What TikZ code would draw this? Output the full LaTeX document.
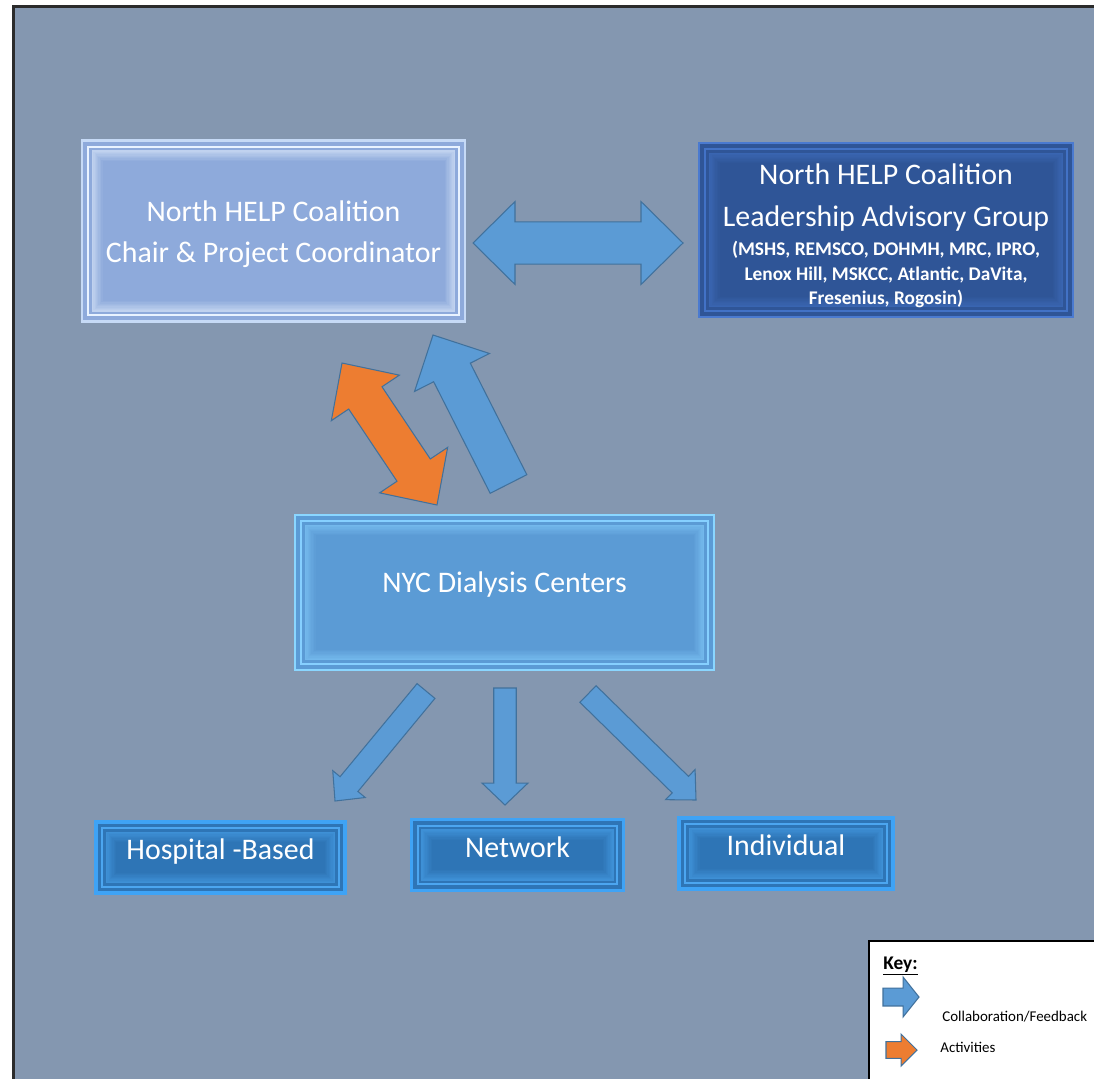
\documentclass[tikz,border=0pt]{standalone}
\usepackage{fontspec}
\setmainfont{Carlito}
\usetikzlibrary{calc}

% office-like palette
\definecolor{slate}{HTML}{8497B0}
\definecolor{framegray}{HTML}{2B2B2B}
\definecolor{chairfill}{HTML}{8EAADB}
\definecolor{chairedge}{HTML}{C6DAF6}
\definecolor{chairhi}{HTML}{E9F3FF}
\definecolor{leadfill}{HTML}{2F5597}
\definecolor{leadedge}{HTML}{4A7AD0}
\definecolor{leadhi}{HTML}{4272C6}
\definecolor{hubfill}{HTML}{5B9BD5}
\definecolor{hubedge}{HTML}{8AD6FF}
\definecolor{hubhi}{HTML}{86D0FF}
\definecolor{leaffill}{HTML}{2E75B6}
\definecolor{leafedge}{HTML}{3FA3F5}
\definecolor{leafhi}{HTML}{4CA6F0}
\definecolor{arrowfill}{HTML}{5B9BD5}
\definecolor{arrowline}{HTML}{41719C}
\definecolor{actorange}{HTML}{ED7D31}

% inner frame + soft bevel band of a box (used in path picture)
\newcommand{\bevel}[2]{%
  \draw[#1, line width=1.1pt]
    ([xshift=3.6pt,yshift=-3.6pt]path picture bounding box.north west) rectangle
    ([xshift=-3.6pt,yshift=3.6pt]path picture bounding box.south east);
  \foreach \k in {0,...,7}{
    \pgfmathtruncatemacro\mix{55-7*\k}
    \pgfmathsetlengthmacro\ins{6pt+0.75pt*\k}
    \draw[#1!\mix!#2, line width=0.8pt]
      ([xshift=\ins,yshift=-\ins]path picture bounding box.north west) rectangle
      ([xshift=-\ins,yshift=\ins]path picture bounding box.south east);
  }
}

% fat arrow: style, tail, tip, shaft half width, head half width, head length
\newcommand{\singlearrow}[6]{%
  \coordinate (#3-base) at ($(#3)!#6!(#2)$);
  \draw[#1] ($(#2)!#4!90:(#3)$) -- ($(#3-base)!#4!90:(#3)$)
    -- ($(#3-base)!#5!90:(#3)$) -- (#3)
    -- ($(#3-base)!#5!-90:(#3)$) -- ($(#3-base)!#4!-90:(#3)$)
    -- ($(#2)!#4!-90:(#3)$) -- cycle;
}

% fat arrow with a head at both ends
\newcommand{\doublearrow}[6]{%
  \coordinate (#2-base) at ($(#2)!#6!(#3)$);
  \coordinate (#3-base) at ($(#3)!#6!(#2)$);
  \draw[#1] (#2) -- ($(#2-base)!#5!90:(#3)$) -- ($(#2-base)!#4!90:(#3)$)
    -- ($(#3-base)!#4!90:(#3)$) -- ($(#3-base)!#5!90:(#3)$) -- (#3)
    -- ($(#3-base)!#5!-90:(#3)$) -- ($(#3-base)!#4!-90:(#3)$)
    -- ($(#2-base)!#4!-90:(#3)$) -- ($(#2-base)!#5!-90:(#3)$) -- cycle;
}

\newcommand{\listfont}{\fontsize{11}{13}\selectfont\bfseries}

\begin{document}
\begin{tikzpicture}[x=0.02cm, y=-0.02cm,
    box/.style={rectangle, inner sep=0pt, text=white, align=center,
      font=\fontsize{17}{23.5}\selectfont},
    chairbox/.style={box, fill=chairfill, draw=chairedge, line width=1.5pt,
      minimum width=7.66cm, minimum height=3.62cm,
      path picture={\bevel{chairhi}{chairfill}}},
    leadbox/.style={box, fill=leadfill, draw=leadedge, line width=1.5pt,
      minimum width=7.48cm, minimum height=3.48cm,
      path picture={\bevel{leadhi}{leadfill}}},
    hubbox/.style={box, fill=hubfill, draw=hubedge, line width=1.6pt,
      minimum width=8.38cm, minimum height=3.1cm, text depth=12pt,
      path picture={\bevel{hubhi}{hubfill}}},
    leafbox/.style={box, fill=leaffill, draw=leafedge, line width=2pt,
      minimum height=1.42cm, text depth=9pt,
      path picture={\bevel{leafhi}{leaffill}}},
    flow/.style={fill=arrowfill, draw=arrowline, line width=0.6pt, line join=miter},
    activity/.style={fill=actorange, draw=arrowline, line width=0.6pt, line join=miter},
    keytext/.style={anchor=west, inner sep=0pt, font=\fontsize{8.5}{10}\selectfont}
  ]
  \useasboundingbox (0,0) rectangle (1094,1078);

  % backdrop
  \draw[fill=slate, draw=framegray, line width=1.7pt] (13.5,6.5) rectangle (1120,1100);

  % boxes
  \node[chairbox] (chair) at (273.5,231) {};
  \node[box] (chairtext) at (273.5,234) {North HELP Coalition\\Chair \& Project Coordinator};
  \node[leadbox] (lead) at (886,230) {};
  \node[box] (leadtext) at (886,236) {North HELP Coalition\\Leadership Advisory Group\\[-6.7pt]
    {\listfont (MSHS, REMSCO, DOHMH, MRC, IPRO,}\\[-9.6pt]
    {\listfont Lenox Hill, MSKCC, Atlantic, DaVita,}\\[-9.6pt]
    {\listfont Fresenius, Rogosin)}};
  \node[hubbox] (centers) at (504.5,592.5) {NYC Dialysis Centers};
  \node[leafbox, minimum width=4.98cm] (hosp) at (220.5,857.5) {Hospital -Based};
  \node[leafbox, minimum width=4.24cm] (network) at (517.5,855) {Network};
  \node[leafbox, minimum width=4.28cm] (indiv) at (786,853.5) {Individual};

  % arrow ends
  \coordinate (link-l) at (473,243);
  \coordinate (link-r) at (683,243);
  \coordinate (act-a) at (342,363);
  \coordinate (act-b) at (437,505);
  \coordinate (fb-tail) at (508.5,484);
  \coordinate (fb-tip) at (433,335);
  \coordinate (d1-tail) at (426,691);
  \coordinate (d1-tip) at (335,801);
  \coordinate (d2-tail) at (505,688);
  \coordinate (d2-tip) at (505,805);
  \coordinate (d3-tail) at (588,694);
  \coordinate (d3-tip) at (696,800);

  % arrows
  \doublearrow{flow}{link-l}{link-r}{12pt}{23.6pt}{23.9pt}
  \doublearrow{activity}{act-a}{act-b}{11.4pt}{23.3pt}{23.9pt}
  \singlearrow{flow}{fb-tail}{fb-tip}{11.7pt}{23.9pt}{23.9pt}
  \singlearrow{flow}{d1-tail}{d1-tip}{6.6pt}{12pt}{12.5pt}
  \singlearrow{flow}{d2-tail}{d2-tip}{6.4pt}{13.1pt}{12.5pt}
  \singlearrow{flow}{d3-tail}{d3-tip}{6.6pt}{12pt}{12.5pt}

  % key
  \node[draw=black, fill=white, line width=0.9pt, anchor=north west,
    minimum width=5cm, minimum height=3cm] (key) at (868,940) {};
  \node[anchor=base west, inner sep=0pt, font=\fontsize{11}{13}\selectfont\bfseries]
    (keytitle) at (883,969) {\underline{Key:}};
  \coordinate (k1-tail) at (883,997);
  \coordinate (k1-tip) at (919,997);
  \coordinate (k2-tail) at (886,1050);
  \coordinate (k2-tip) at (917,1050);
  \singlearrow{flow}{k1-tail}{k1-tip}{5.1pt}{11.4pt}{9.1pt}
  \singlearrow{activity}{k2-tail}{k2-tip}{4.8pt}{9.1pt}{9.1pt}
  \node[keytext] (k1-text) at (942,1017) {Collaboration/Feedback};
  \node[keytext] (k2-text) at (940,1047) {Activities};
\end{tikzpicture}
\end{document}
